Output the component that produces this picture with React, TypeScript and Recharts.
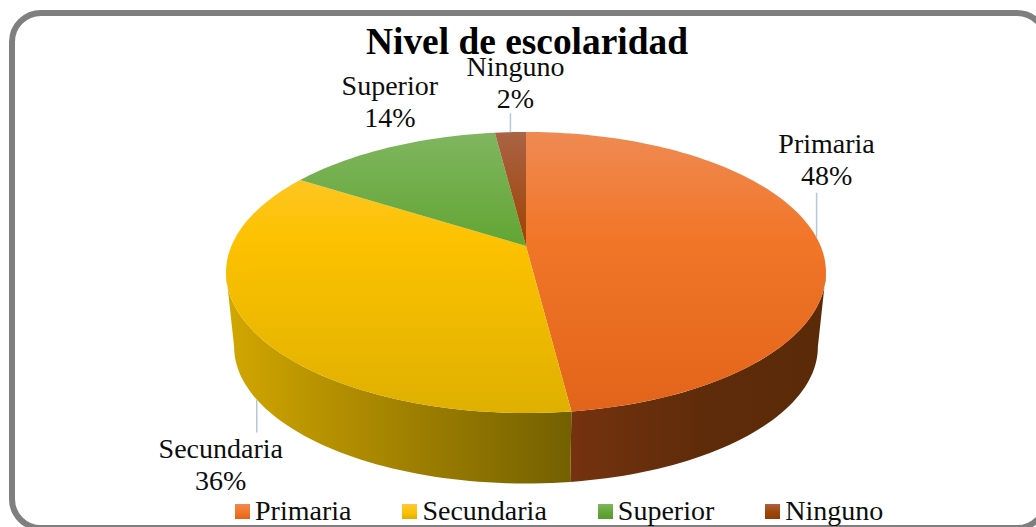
import React from "react";
import { PieChart, Pie, Legend } from "recharts";

const TITLE = "Nivel de escolaridad";
const categories = ["Primaria", "Secundaria", "Superior", "Ninguno"];
const shares = [48, 36, 14, 2];
const tableData = categories.map((name, i) => ({ name, value: shares[i] }));

const FONT = "'Liberation Serif', serif";
// Perspective of the disc: the centre of the pie projects above the centre of the ellipse.
const TILT = 0.1886;
const Y_SQUASH = 0.46;
const LOWER_SCALE = 0.973;
const LOWER_DROP = 75;
const RADIUS = 294.6;
const CX = 526;
const CY = 246;

const topStops: Record<string, string[]> = {
  Primaria: ["#EF8A52", "#F17628", "#E2641A"],
  Secundaria: ["#FDC83F", "#FDC200", "#DFB000"],
  Superior: ["#80B660", "#64A636", "#5A9A30"],
  Ninguno: ["#AA6344", "#9E4506", "#8E3E05"],
};
const wallStops: Record<string, string[]> = {
  Primaria: ["#75320F", "#5F2C0A", "#5A2A09"],
  Secundaria: ["#D2A700", "#A28200", "#736000"],
  Superior: ["#4F7F2C", "#4F7F2C", "#4F7F2C"],
  Ninguno: ["#6E3009", "#6E3009", "#6E3009"],
};
const labelLayout: Record<string, { leader: number; dx: number; dy: number }> = {
  Primaria: { leader: -45, dx: 10, dy: -85 },
  Secundaria: { leader: 33, dx: -36, dy: 58 },
  Superior: { leader: 0, dx: 0, dy: -52 },
  Ninguno: { leader: -19, dx: 5, dy: -56 },
};

function rim(cx: number, cy: number, r: number, clockDeg: number, lower = false) {
  const t = (clockDeg * Math.PI) / 180;
  const u = Math.sin(t);
  const v = Math.cos(t);
  const d = 1 + TILT * v;
  const s = lower ? LOWER_SCALE : 1;
  return {
    x: cx + (s * r * u) / d,
    y: cy + (lower ? LOWER_DROP : 0) - (s * r * Y_SQUASH * v) / d,
  };
}

function arcPoints(cx: number, cy: number, r: number, a: number, b: number, lower = false) {
  const steps = Math.max(2, Math.ceil(Math.abs(b - a) / 1.5));
  const pts: { x: number; y: number }[] = [];
  for (let i = 0; i <= steps; i++) pts.push(rim(cx, cy, r, a + ((b - a) * i) / steps, lower));
  return pts;
}

const toPath = (pts: { x: number; y: number }[]) =>
  pts.map((p, i) => `${i ? "L" : "M"}${p.x.toFixed(2)} ${p.y.toFixed(2)}`).join(" ");

// Clock angles between which the wall of the disc is visible (rim's horizontal extremes).
const WALL_FROM = 100.9;
const WALL_TO = 259.1;

function Slice3D(props: any) {
  const { cx, cy, outerRadius: r, startAngle, endAngle, name } = props;
  const a = 90 - startAngle;
  const b = 90 - endAngle;
  const id = String(name);
  const top = topStops[id];
  const wall = wallStops[id];
  const rimPts = arcPoints(cx, cy, r, a, b);
  const from = Math.max(a, WALL_FROM);
  const to = Math.min(b, WALL_TO);
  let wallPath = "";
  if (to > from) {
    const up = arcPoints(cx, cy, r, from, to);
    const low = arcPoints(cx, cy, r, from, to, true).reverse();
    wallPath = toPath([...up, ...low]) + " Z";
  }
  const xs = wallPath ? arcPoints(cx, cy, r, from, to).map((p) => p.x) : [0, 1];
  return (
    <g>
      <defs>
        <linearGradient id={`top-${id}`} gradientUnits="userSpaceOnUse" x1="0" x2="0" y1={rim(cx, cy, r, 0).y} y2={rim(cx, cy, r, 180).y}>
          <stop offset="0" stopColor={top[0]} />
          <stop offset="0.38" stopColor={top[1]} />
          <stop offset="1" stopColor={top[2]} />
        </linearGradient>
        <linearGradient id={`wall-${id}`} gradientUnits="userSpaceOnUse" y1="0" y2="0" x1={Math.min(...xs)} x2={Math.max(...xs)}>
          <stop offset="0" stopColor={wall[0]} />
          <stop offset="0.5" stopColor={wall[1]} />
          <stop offset="1" stopColor={wall[2]} />
        </linearGradient>
      </defs>
      {wallPath && <path d={wallPath} fill={`url(#wall-${id})`} />}
      <path d={`${toPath([{ x: cx, y: cy }, ...rimPts])} Z`} fill={`url(#top-${id})`} />
    </g>
  );
}

function SliceLabel(props: any) {
  const { cx, cy, outerRadius: r, midAngle, name, percent } = props;
  const clock = 90 - midAngle;
  const layout = labelLayout[name];
  const front = Math.cos((clock * Math.PI) / 180) < -0.2;
  const p = rim(cx, cy, r, clock, front);
  const tx = p.x + layout.dx;
  const ty = p.y + layout.dy;
  const textStyle = { fontFamily: FONT, fontSize: 28, fill: "#0d0d0d" };
  return (
    <g>
      {layout.leader !== 0 && (
        <line x1={p.x} y1={p.y} x2={p.x} y2={p.y + layout.leader} stroke="#B8C6DA" strokeWidth={1.5} />
      )}
      <text x={tx} y={ty} textAnchor="middle" style={textStyle}>{name}</text>
      <text x={tx} y={ty + 32} textAnchor="middle" style={textStyle}>{`${Math.round(percent * 100)}%`}</text>
    </g>
  );
}

function LegendRow() {
  return (
    <div style={{ display: "flex", alignItems: "center", fontFamily: FONT, fontSize: 28, lineHeight: "32px", color: "#0d0d0d" }}>
      {categories.map((c) => (
        <div key={c} style={{ display: "flex", alignItems: "center", marginRight: 51 }}>
          <span
            style={{
              display: "inline-block",
              width: 15,
              height: 15,
              marginRight: 5,
              marginTop: 1,
              background: `linear-gradient(${topStops[c][0]}, ${topStops[c][1]} 55%, ${topStops[c][2]})`,
            }}
          />
          <span>{c}</span>
        </div>
      ))}
    </div>
  );
}

export default function App() {
  return (
    <div style={{ position: "fixed", left: 0, top: 0, width: 1036, height: 527, overflow: "hidden", background: "#fff" }}>
      <div
        style={{
          position: "absolute",
          left: 9,
          top: 10,
          width: 1040,
          height: 521,
          boxSizing: "border-box",
          border: "6px solid #7F7F7F",
          borderRadius: 32,
        }}
      />
      <div style={{ position: "absolute", left: 0, top: 0 }}>
        <PieChart width={1036} height={527} margin={{ top: 0, right: 0, bottom: 0, left: 0 }}>
          <text x={527} y={54} textAnchor="middle" style={{ fontFamily: FONT, fontSize: 37.4, fontWeight: 700, fill: "#000" }}>
            {TITLE}
          </text>
          <Pie
            data={tableData}
            dataKey="value"
            nameKey="name"
            cx={CX}
            cy={CY}
            outerRadius={RADIUS}
            startAngle={90}
            endAngle={-270}
            stroke="none"
            paddingAngle={0}
            isAnimationActive={false}
            shape={Slice3D}
            label={SliceLabel}
            labelLine={false}
          />
          <Legend
            content={LegendRow}
            wrapperStyle={{ position: "absolute", left: 235, top: 495, width: 760, bottom: "auto" }}
          />
        </PieChart>
      </div>
    </div>
  );
}
